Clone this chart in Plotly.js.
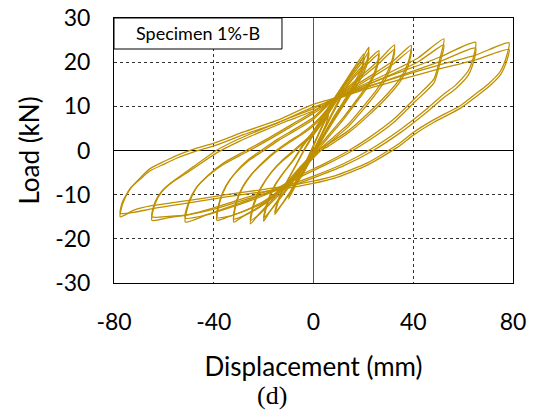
<!DOCTYPE html>
<html>
<head>
<meta charset="utf-8">
<script src="https://cdn.plot.ly/plotly-3.0.1.min.js"></script>
<style>html,body{margin:0;padding:0;background:#fff;}#chart{width:536px;height:419px;}</style>
</head>
<body>
<div id="chart"></div>
<script>
// Displacement (mm) / Load (kN), one closed loop per cycle
const disp78 = [-77.5,-76.5,-73.5,-69.5,-65.5,-60,-54.7,-48,-38.7,-28,-14.6,-1.2,8,20,35,50,65,78.4, 77.5,75,70,65,59,48.3,40.3,33.6,21.6,8.2,-5.2,-21,-35,-45,-55,-65,-72,-77.5];
const load78a = [-15,-12,-8.7,-6.2,-4.1,-2.5,-1.1,0.3,1.9,4.2,6.8,10.2,11.8,14.2,16.8,19.3,21.6,24.4, 21.5,18,15,12.8,10.2,7,4.2,1.3,-2.8,-5.8,-7.5,-8.9,-10,-10.9,-11.7,-12.5,-13.5,-15];
const load78b = [-14.2,-11.5,-8.6,-6.5,-4.6,-3.1,-1.7,-0.3,1.3,3.6,6.2,9.6,11.4,13.7,16.1,18.4,20.5,22.9, 20.3,17.2,14.3,12.1,9.6,6.4,3.6,0.7,-3.3,-6.3,-8,-9.4,-10.5,-11.4,-12.3,-13.2,-14,-14.2];

const disp65 = [-64.8,-63.5,-61,-57.4,-52,-48,-39,-30,-20,-10,0,8,20,35,50,65, 64.3,62,57,52.3,45,35,23.6,12,0,-10,-20,-30,-40,-50,-58,-64.8];
const load65a = [-15.8,-12,-9.5,-7.4,-5.2,-3.6,0,2.6,5,7.3,9.5,11.7,14.6,17.8,21,24.5, 21.5,18,14.8,12.8,9.2,4.8,0.5,-3,-5.8,-7.8,-9.5,-11.2,-13,-14.5,-15.2,-15.8];
const load65b = [-15,-11.6,-9.3,-7.5,-5.5,-4,-0.6,2,4.5,6.8,9,11.3,14,17,20,23.2, 20.3,17,14,12,8.5,4.1,-0.1,-3.5,-6.2,-8.2,-9.9,-11.6,-13.3,-14.5,-14.9,-15];

const disp52 = [-51.4,-50,-47,-42,-36,-27,-18,-9,0,8,18,30,42,52.3, 51,48.3,41,32,22,14.2,5,-5,-15,-25,-35,-43,-51.4];
const load52a = [-16.2,-12,-8.5,-5.5,-2.8,0,2.8,5.8,8.8,11.6,14.4,17.5,21,25.3, 21.5,16.2,12,7,2.8,0,-2.8,-5.5,-8.7,-11,-13,-14.6,-16.2];
const load52b = [-15.3,-11.6,-8.4,-5.6,-3.1,-0.4,2.4,5.4,8.4,11.3,14,16.9,20.1,23.9, 20.4,15.3,11.2,6.3,2.2,-0.5,-3.2,-5.9,-9,-11.3,-13.2,-14.6,-15.3];

const disp39 = [-38.7,-37.5,-35,-31,-26,-21,-14,-7,0,8,16,24,32,39.2, 38,35,29.6,22,14,6,1.5,-5,-10,-15,-20,-28,-34,-38.7];
const load39a = [-15.8,-11.5,-8,-4.8,-2,0,2.7,5,7.5,11.7,14.5,17.3,20.3,23.8, 20,16.5,12.8,8.5,4.5,1.5,0,-3.5,-6.8,-9.5,-11.5,-13.7,-15,-15.8];
const load39b = [-15.2,-11.2,-7.9,-4.9,-2.3,-0.4,2.3,4.6,7.1,11.4,14.1,16.8,19.6,22.8, 19.2,15.8,12.1,7.9,4,1,-0.5,-3.9,-7.2,-9.8,-11.8,-13.8,-14.9,-15.2];

const disp32 = [-32,-31,-28.5,-25,-20,-15,-10,-5,0,5,8.5,14,20,26,32.5, 31.5,29,25,20,14,8,2,-4,-10,-16,-22,-28,-32];
const load32a = [-16.2,-12,-8.5,-5.5,-2.5,0,2,3.8,6,9,11.8,14.5,17.3,20.3,23.9, 20.5,17,13.5,10,6,3,0,-3.5,-7.2,-10.3,-12.8,-14.8,-16.2];
const load32b = [-15.5,-11.6,-8.3,-5.5,-2.7,-0.3,1.7,3.5,5.6,8.6,11.4,14.1,16.8,19.6,22.9, 19.6,16.2,12.8,9.3,5.4,2.5,-0.5,-4,-7.6,-10.6,-13,-14.8,-15.5];

const disp25 = [-25.3,-24,-21,-17,-12.5,-8,-4,0,4,8,12,17,22,26.2, 25.5,23,18,12,6,0,-6,-12,-18,-22,-25.3];
const load25a = [-16.6,-12.5,-8.5,-5,-2.2,0,2,4,7,10.5,13.8,17.5,20.5,22.6, 19.5,16,12,7.5,3.5,-0.5,-4.5,-8.5,-12,-14.5,-16.6];
const load25b = [-15.8,-12,-8.3,-5,-2.4,-0.3,1.7,3.6,6.6,10.1,13.4,17,19.8,21.8, 18.8,15.4,11.5,7,3,-1,-5,-9,-12.4,-14.6,-15.8];

const disp20 = [-20,-18.5,-15.5,-12,-8,-4,0,4,8,12,16,19.5,22.2, 21.5,19,14,9,4,0,-5,-10,-14,-17.5,-20];
const load20a = [-16,-12,-8,-5,-2,1.5,4.5,8,11.5,14.8,18,20.8,23.4, 20.5,17,12.5,8,3.5,0,-4,-8,-11,-13.8,-16];
const load20b = [-15.3,-11.6,-7.8,-5,-2.2,1.2,4.1,7.6,11.1,14.3,17.4,20,22.3, 19.6,16.3,11.9,7.5,3,-0.5,-4.5,-8.4,-11.3,-13.8,-15.3];

const disp15 = [-15.5,-13.5,-10.5,-7,-3.5,0,4,8,12,16,20.2, 19.5,17,13,8,3,-1,-5,-9,-12.5,-15.5];
const load15a = [-14.5,-10.5,-7,-3.3,0.5,3.8,7.8,11.5,15,18.5,21.9, 19,16,12,7.5,2.5,-1.5,-5.5,-9,-12,-14.5];
const load15b = [-14,-10.2,-6.8,-3.3,0.3,3.5,7.4,11.1,14.5,17.9,21, 18.3,15.4,11.5,7,2,-2,-6,-9.3,-12.1,-14];

const disp10 = [-10,-7,-3,1,5,9,12, 11,7,3,-1,-5,-10];
const load10a = [-11,-7,-2.5,2.5,7.5,12,15, 12.5,8,3.5,-1,-5.5,-11];
const load10b = [-10.5,-6.8,-2.5,2.3,7.2,11.6,14.5, 12,7.6,3.1,-1.3,-5.6,-10.5];

const disp5 = [-5,-2,1,4,6, 5,2,-1,-3,-5];
const load5 = [-6,-2,2.5,6,8, 6,2,-1.5,-4,-6];

const xTicks = [-80,-40,0,40,80];
const yTicks = [-30,-20,-10,0,10,20,30];

const cycles = [
  [disp5, load5], [disp10, load10a], [disp10, load10b],
  [disp15, load15a], [disp15, load15b], [disp20, load20a], [disp20, load20b],
  [disp25, load25a], [disp25, load25b], [disp32, load32a], [disp32, load32b],
  [disp39, load39a], [disp39, load39b], [disp52, load52a], [disp52, load52b],
  [disp65, load65a], [disp65, load65b], [disp78, load78a], [disp78, load78b]
];

const lineColor = '#BF9000';
const traces = cycles.map(c => ({
  x: c[0], y: c[1], type: 'scatter', mode: 'lines',
  line: {color: lineColor, width: 1.3, shape: 'spline', smoothing: 0.6},
  showlegend: false, hoverinfo: 'skip'
}));

const sansFamily = 'Lato, "Open Sans", sans-serif';
const tickFont = {family: sansFamily, size: 23, color: '#000'};
const axisBase = {
  showgrid: true, gridcolor: '#333', griddash: 'dot', gridwidth: 1,
  showline: true, mirror: true, linecolor: '#000', linewidth: 1,
  ticks: 'outside', ticklen: 18, tickcolor: 'rgba(0,0,0,0)',
  tickfont: tickFont, fixedrange: true
};

const layout = {
  width: 536, height: 419,
  margin: {l: 114, r: 23, t: 18, b: 136},
  paper_bgcolor: '#fff', plot_bgcolor: '#fff',
  xaxis: Object.assign({}, axisBase, {
    range: [-80, 80], tickvals: xTicks, ticktext: xTicks.map(String),
    zeroline: true, zerolinecolor: '#555', zerolinewidth: 1.5,
    title: {text: 'Displacement (mm)', font: {family: sansFamily, size: 26, color: '#000'}, standoff: 24}
  }),
  yaxis: Object.assign({}, axisBase, {
    range: [-30, 30], tickvals: yTicks, ticktext: yTicks.map(String),
    zeroline: true, zerolinecolor: '#000', zerolinewidth: 1.5,
    title: {text: 'Load (kN)', font: {family: sansFamily, size: 26, color: '#000'}, standoff: 8}
  }),
  shapes: [{
    type: 'rect', xref: 'paper', yref: 'paper',
    x0: 0, x1: 0.421, y0: 0.883, y1: 1,
    fillcolor: '#fff', line: {color: '#000', width: 1}, layer: 'above'
  }],
  annotations: [
    {text: 'Specimen 1%-B', xref: 'paper', yref: 'paper', x: 0.21, y: 0.942,
     xanchor: 'center', yanchor: 'middle', showarrow: false,
     font: {family: sansFamily, size: 18, color: '#000'}},
    {text: '(d)', xref: 'paper', yref: 'paper', x: 0.396, y: -0.423,
     xanchor: 'center', yanchor: 'middle', showarrow: false,
     font: {family: '"Liberation Serif", "Times New Roman", serif', size: 26, color: '#000'}}
  ]
};

Plotly.newPlot('chart', traces, layout, {displayModeBar: false, staticPlot: true});
</script>
</body>
</html>
